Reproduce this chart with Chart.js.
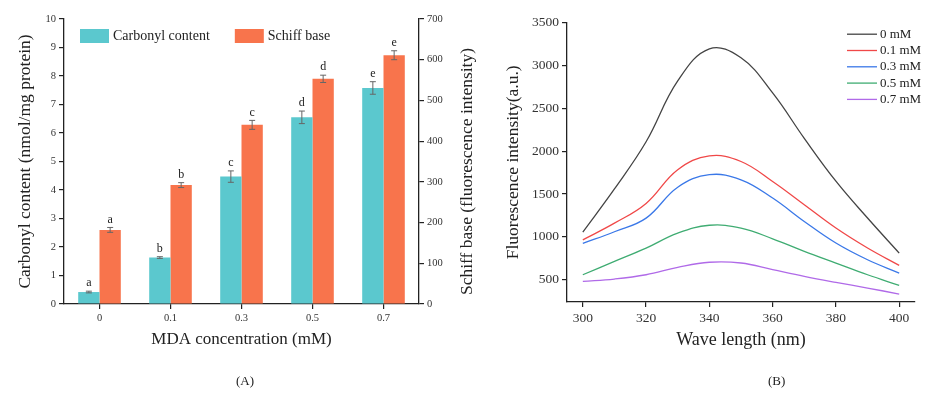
<!DOCTYPE html>
<html>
<head>
<meta charset="utf-8">
<script src="https://cdn.jsdelivr.net/npm/chart.js@4.4.1/dist/chart.umd.min.js"></script>
<style>
body{margin:0;background:#fff;width:925px;height:394px;overflow:hidden;position:relative;font-family:"Liberation Serif","Times New Roman",serif;}
#boxA{position:absolute;left:0;top:0;width:480px;height:394px;}
#boxB{position:absolute;left:480px;top:0;width:445px;height:394px;}
.tag{position:absolute;top:373px;font-size:13px;color:#222;}
</style>
</head>
<body>
<div id="boxA"><canvas id="bar"></canvas></div>
<div id="boxB"><canvas id="line"></canvas></div>
<div class="tag" style="left:236px">(A)</div>
<div class="tag" style="left:768px">(B)</div>
<script>
// panel A
var mda=['0','0.1','0.3','0.5','0.7'];
var carbonyl=[0.42,1.63,4.47,6.55,7.58];
var carbonylErr=[0.03,0.03,0.2,0.22,0.22];
var carbonylSig=['a','b','c','d','e'];
var schiff=[182,292,440,553,611];
var schiffErr=[6,6,11,9,11];
var schiffSig=['a','b','c','d','e'];

// panel B
var wave=[300,310,320,330,340,350,360,370,380,390,400];
var conc=['0 mM','0.1 mM','0.3 mM','0.5 mM','0.7 mM'];
var fl0=[1056,1560,2110,2820,3195,3090,2680,2150,1650,1220,811];
var fl01=[966,1160,1390,1783,1945,1880,1646,1375,1103,870,667];
var fl03=[924,1060,1219,1580,1726,1666,1453,1180,928,733,578];
var fl05=[558,714,869,1044,1136,1103,978,831,694,558,434];
var fl07=[481,508,558,644,704,695,617,539,469,403,333];
var waveTicks=[300,320,340,360,380,400];
var flTicks=[500,1000,1500,2000,2500,3000,3500];

var serif='"Liberation Serif", "Times New Roman", serif';
Chart.defaults.font.family=serif;
Chart.defaults.color='#222';

var errPlugin={id:'err',afterDatasetsDraw:function(chart){
  var ctx=chart.ctx;
  chart.data.datasets.forEach(function(ds,i){
    var meta=chart.getDatasetMeta(i),sc=chart.scales[ds.yAxisID];
    meta.data.forEach(function(bar,j){
      var hi=sc.getPixelForValue(ds.data[j]+ds.err[j]),lo=sc.getPixelForValue(ds.data[j]-ds.err[j]);
      ctx.save();
      ctx.strokeStyle='#666';ctx.lineWidth=1;
      ctx.beginPath();
      ctx.moveTo(bar.x,hi);ctx.lineTo(bar.x,lo);
      ctx.moveTo(bar.x-3,hi);ctx.lineTo(bar.x+3,hi);
      ctx.moveTo(bar.x-3,lo);ctx.lineTo(bar.x+3,lo);
      ctx.stroke();
      ctx.fillStyle='#222';ctx.font='12px '+serif;ctx.textAlign='center';ctx.textBaseline='middle';
      ctx.fillText(ds.sig[j],bar.x,hi-8);
      ctx.restore();
    });
  });
}};

var legendA={id:'legendA',afterDraw:function(chart){
  var ctx=chart.ctx,a=chart.chartArea,x=a.left+16,y=a.top+10;
  ctx.save();
  ctx.font='14px '+serif;ctx.textBaseline='middle';
  chart.data.datasets.forEach(function(ds){
    ctx.fillStyle=ds.backgroundColor;ctx.fillRect(x,y,29,14);
    ctx.fillStyle='#222';ctx.fillText(ds.label,x+33,y+7);
    x+=33+ctx.measureText(ds.label).width+25;
  });
  // right axis title reads bottom to top
  ctx.translate(a.right+48,(a.top+a.bottom)/2+10);
  ctx.rotate(-Math.PI/2);
  ctx.font='17.5px '+serif;ctx.textAlign='center';
  ctx.fillText('Schiff base (fluorescence intensity)',0,0);
  ctx.restore();
}};

var legendB={id:'legendB',afterDraw:function(chart){
  var ctx=chart.ctx,a=chart.chartArea,x=a.right-68,y=a.top+11.5;
  ctx.save();
  ctx.font='13px '+serif;ctx.textBaseline='middle';
  chart.data.datasets.forEach(function(ds,i){
    var yy=y+i*16.3;
    ctx.strokeStyle=ds.borderColor;ctx.lineWidth=1.3;
    ctx.beginPath();ctx.moveTo(x,yy);ctx.lineTo(x+30,yy);ctx.stroke();
    ctx.fillStyle='#222';ctx.fillText(ds.label,x+33,yy);
  });
  ctx.restore();
}};

function axis(extra){
  var o={grid:{drawOnChartArea:false,tickLength:5,color:'#222',lineWidth:1.2},
    border:{color:'#222',width:1.3}};
  for(var k in extra){o[k]=extra[k];}
  return o;
}
function plain(v){return String(v);}

window.onload=function(){
  var bar=document.getElementById('bar').getContext('2d');
  var line=document.getElementById('line').getContext('2d');

  new Chart(bar,{
    type:'bar',
    data:{labels:mda,datasets:[
      {label:'Carbonyl content',data:carbonyl,err:carbonylErr,sig:carbonylSig,yAxisID:'y',backgroundColor:'#5bc8ce'},
      {label:'Schiff base',data:schiff,err:schiffErr,sig:schiffSig,yAxisID:'y2',backgroundColor:'#f8744c'}]},
    plugins:[errPlugin,legendA],
    options:{responsive:true,maintainAspectRatio:false,animation:false,
      layout:{padding:{top:19}},
      datasets:{bar:{barPercentage:1,categoryPercentage:0.6}},
      plugins:{legend:{display:false},tooltip:{enabled:false}},
      scales:{
        x:axis({grid:{offset:false,drawOnChartArea:false,tickLength:5,color:'#222',lineWidth:1.2},
          ticks:{font:{size:10.5},color:'#333',padding:3},
          title:{display:true,text:'MDA concentration (mM)',font:{size:17},padding:{top:0,bottom:44}},
          afterFit:function(s){s.height=90;}}),
        y:axis({position:'left',min:0,max:10,ticks:{stepSize:1,font:{size:10.5},color:'#333',padding:3},
          title:{display:true,text:'Carbonyl content (nmol/mg protein)',font:{size:17.5},padding:{top:14.5,bottom:0}},
          afterFit:function(s){s.width=64;}}),
        y2:axis({position:'right',min:0,max:700,ticks:{stepSize:100,font:{size:10.5},color:'#333',padding:3},
          afterFit:function(s){s.width=61;}})
      }}
  });

  var series=[fl0,fl01,fl03,fl05,fl07];
  var colors=['#444444','#f04848','#3a78e8','#3fac72','#b06ae8'];
  var sets=series.map(function(s,i){
    return {label:conc[i],data:wave.map(function(w,j){return {x:w,y:s[j]};}),
      borderColor:colors[i],borderWidth:1.3,pointRadius:0,fill:false,tension:0.4};
  });

  new Chart(line,{
    type:'line',
    data:{datasets:sets},
    plugins:[legendB],
    options:{responsive:true,maintainAspectRatio:false,animation:false,
      layout:{padding:{top:22.7,right:10}},
      plugins:{legend:{display:false},tooltip:{enabled:false}},
      scales:{
        x:axis({type:'linear',min:295,max:405,
          afterBuildTicks:function(s){s.ticks=waveTicks.map(function(v){return {value:v};});},
          ticks:{font:{size:13.5},color:'#333',padding:3,callback:plain},
          title:{display:true,text:'Wave length (nm)',font:{size:18},padding:{top:0,bottom:43}},
          afterFit:function(s){s.height=92;}}),
        y:axis({min:240,max:3500,
          afterBuildTicks:function(s){s.ticks=flTicks.map(function(v){return {value:v};});},
          ticks:{font:{size:13.5},color:'#333',padding:3,callback:plain},
          title:{display:true,text:'Fluorescence intensity(a.u.)',font:{size:17.5},padding:{top:22.5,bottom:0}},
          afterFit:function(s){s.width=87;}})
      }}
  });
};
</script>
</body>
</html>
